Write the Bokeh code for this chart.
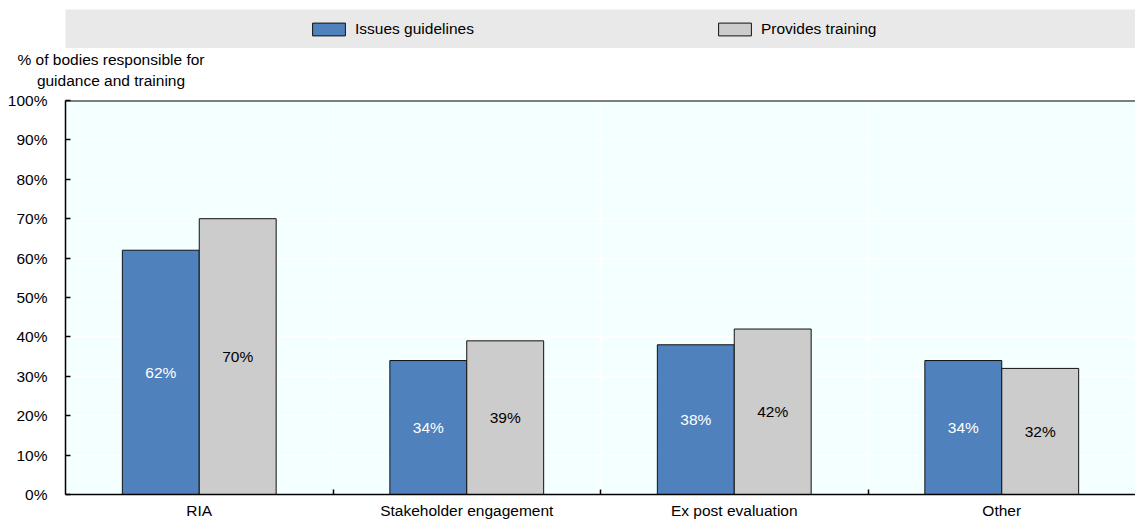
import numpy as np
from bokeh.plotting import figure
from bokeh.models import (ColumnDataSource, Range1d, FixedTicker, PrintfTickFormatter,
                          Legend, LegendItem, Span, LinearAxis)
from bokeh.layouts import column
from bokeh.transform import dodge
from bokeh.core.properties import value
from bokeh.embed import file_html
from bokeh.resources import INLINE

# ---- data ----
categories = ["RIA", "Stakeholder engagement", "Ex post evaluation", "Other"]
issues_guidelines = [62, 34, 38, 34]
provides_training = [70, 39, 42, 32]
series_names = ["Issues guidelines", "Provides training"]
y_ticks = [0, 10, 20, 30, 40, 50, 60, 70, 80, 90, 100]
y_title = ["% of bodies responsible for", "guidance and training"]

FONT = "Liberation Sans"
FS = "15.5px"
BLUE = "#4F81BD"
GRAY = "#CCCCCC"
BG = "#F4FFFF"
BAR_W = 0.2875
OFF = BAR_W / 2
W = 1135
LEFT = 65

pos = np.arange(len(categories)) + 0.5
src = ColumnDataSource(dict(
    x=pos,
    cat=categories,
    g=issues_guidelines,
    t=provides_training,
    g_mid=np.array(issues_guidelines) / 2,
    t_mid=np.array(provides_training) / 2,
    g_lab=[f"{v}%" for v in issues_guidelines],
    t_lab=[f"{v}%" for v in provides_training],
))

# ---- legend band ----
lf = figure(width=W, height=48, x_range=Range1d(-200, -199), y_range=Range1d(-200, -199),
            output_backend="svg", toolbar_location=None,
            x_axis_location=None, y_axis_location=None,
            min_border=0, min_border_left=LEFT, min_border_top=9, min_border_right=0,
            min_border_bottom=0,
            background_fill_color="#E9E9E9", border_fill_color="white", outline_line_color=None)
lf.grid.visible = False
lg = lf.vbar(x="x", top="g", width=BAR_W, source=src, fill_color=BLUE, line_color="#111111", line_width=1)
lt = lf.vbar(x="x", top="t", width=BAR_W, source=src, fill_color=GRAY, line_color="#111111", line_width=1)
legend = Legend(items=[LegendItem(label=series_names[0], renderers=[lg]),
                       LegendItem(label=series_names[1], renderers=[lt])],
                orientation="horizontal", location=(243, 8), padding=0, margin=0, spacing=0,
                glyph_width=41, glyph_height=16, label_standoff=6, label_width=359,
                label_height=22, border_line_color=None, background_fill_alpha=0,
                label_text_font=FONT, label_text_font_size=FS, label_text_color="black")
lf.add_layout(legend, "center")

# ---- main chart ----
p = figure(width=W, height=475,
           x_range=Range1d(0, len(categories)), y_range=Range1d(y_ticks[0], y_ticks[-1]),
           output_backend="svg", toolbar_location=None,
           min_border=0, min_border_left=LEFT, min_border_right=0,
           min_border_top=50, min_border_bottom=29,
           background_fill_color=BG, border_fill_color="white", outline_line_color=None)

# bottom category axis
xa = p.below[0]
xt = FixedTicker(ticks=list(pos), minor_ticks=list(np.arange(1, len(categories))))
xa.ticker = xt
p.xgrid.ticker = xt
xa.major_label_overrides = {float(x): c for x, c in zip(pos, categories)}
xa.major_tick_in = 0
xa.major_tick_out = 0
xa.minor_tick_in = 5
xa.minor_tick_out = 0
xa.minor_tick_line_color = "black"
xa.minor_tick_line_width = 1.5
xa.major_label_standoff = 7
xa.axis_line_color = "black"
xa.axis_line_width = 1.5
xa.major_label_text_font = FONT
xa.major_label_text_font_size = FS
xa.major_label_text_color = "black"
p.xgrid.grid_line_color = None
p.xgrid.minor_grid_line_color = "white"
p.xgrid.minor_grid_line_width = 1

# left value axis
ya = p.left[0]
yt = FixedTicker(ticks=y_ticks)
ya.ticker = yt
p.ygrid.ticker = yt
ya.formatter = PrintfTickFormatter(format="%d%%")
ya.major_tick_in = 5
ya.major_tick_out = 0
ya.minor_tick_in = 0
ya.minor_tick_out = 0
ya.major_label_standoff = 18
ya.axis_line_color = "black"
ya.axis_line_width = 1.5
ya.major_tick_line_color = "black"
ya.major_tick_line_width = 1.5
ya.major_label_text_font = FONT
ya.major_label_text_font_size = FS
ya.major_label_text_color = "black"
p.ygrid.grid_line_color = "white"
p.ygrid.grid_line_width = 1

# two-line y-axis title, drawn as the label of a bare axis above the plot
p.extra_x_ranges = {"px": Range1d(LEFT, W)}
title_x = 110.5
title_axis = LinearAxis(x_range_name="px", ticker=FixedTicker(ticks=[title_x]),
                        major_label_overrides={title_x: "\n".join(y_title)},
                        axis_line_color=None, major_tick_in=0, major_tick_out=0,
                        minor_tick_in=0, minor_tick_out=0, major_label_standoff=12,
                        major_label_text_font=FONT, major_label_text_font_size=FS,
                        major_label_text_color="black", major_label_text_align="center")
p.add_layout(title_axis, "above")

p.add_layout(Span(location=y_ticks[-1], dimension="width", line_color="black", line_width=2))

rg = p.vbar(x=dodge("x", -OFF, range=p.x_range), top="g", width=BAR_W, source=src,
            fill_color=BLUE, line_color="#111111", line_width=1)
rt = p.vbar(x=dodge("x", OFF, range=p.x_range), top="t", width=BAR_W, source=src,
            fill_color=GRAY, line_color="#111111", line_width=1)

p.text(x=dodge("x", -OFF, range=p.x_range), y="g_mid", text="g_lab", source=src,
       text_align="center", text_baseline="middle", text_color="white",
       text_font=value(FONT), text_font_size=FS)
p.text(x=dodge("x", OFF, range=p.x_range), y="t_mid", text="t_lab", source=src,
       text_align="center", text_baseline="middle", text_color="black",
       text_font=value(FONT), text_font_size=FS)

layout = column(lf, p, spacing=0)
open("out.html", "w").write(file_html(layout, INLINE))
